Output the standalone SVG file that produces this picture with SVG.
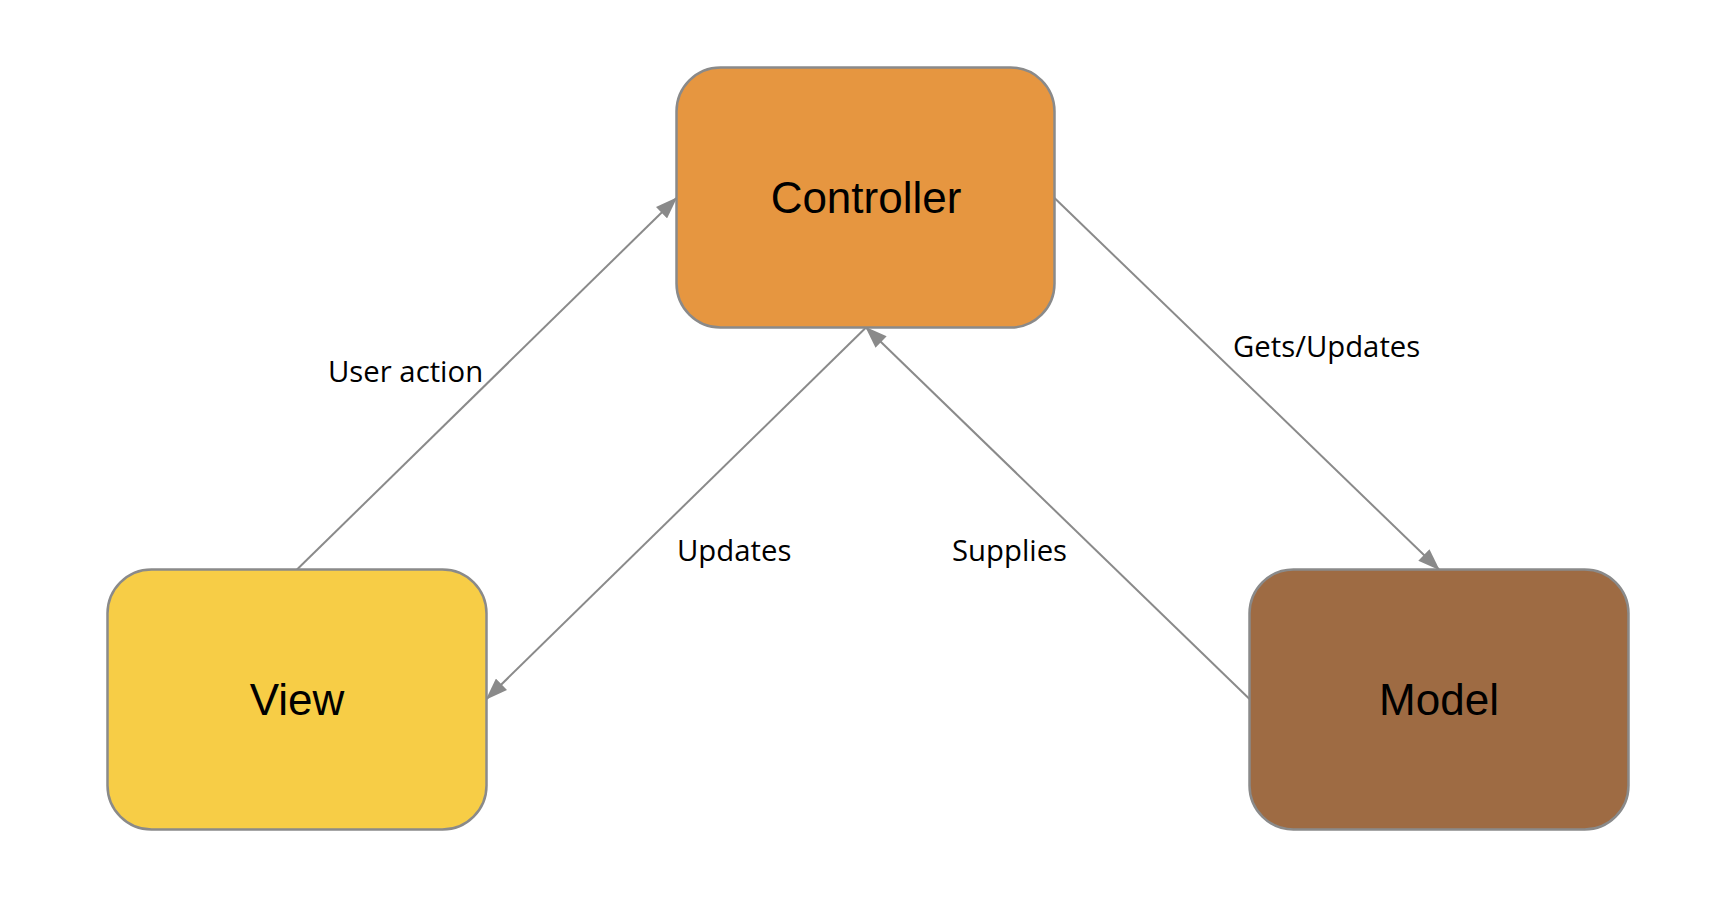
<svg xmlns="http://www.w3.org/2000/svg" width="1722" height="920" viewBox="0 0 1722 920">
  <style>
    .box { stroke: #8a8a8a; stroke-width: 2.5; }
    .title { font-family: "Liberation Sans", Arial, sans-serif; font-size: 44px; fill: #000; text-anchor: middle; }
    .lbl { font-family: "Open Sans", "Noto Sans", sans-serif; font-size: 29.3px; fill: #000; }
    .conn { stroke: #8a8a8a; stroke-width: 2; fill: none; }
  </style>
  <defs>
    <marker id="arrow" markerUnits="userSpaceOnUse" viewBox="0 0 22 16" refX="21" refY="8" markerWidth="22" markerHeight="16" orient="auto">
      <path d="M0,0 L22,8 L0,16 z" fill="#8a8a8a"/>
    </marker>
  </defs>
  <rect width="1722" height="920" fill="#ffffff"/>
  <g id="connectors">
    <line class="conn" x1="297" y1="569.5" x2="676.5" y2="198" marker-end="url(#arrow)"/>
    <line class="conn" x1="866" y1="327.5" x2="486.5" y2="699" marker-end="url(#arrow)"/>
    <line class="conn" x1="1249.5" y1="699" x2="866" y2="327.5" marker-end="url(#arrow)"/>
    <line class="conn" x1="1054.5" y1="198" x2="1439" y2="569.5" marker-end="url(#arrow)"/>
    <text class="lbl" x="328" y="382">User action</text>
    <text class="lbl" x="677" y="561">Updates</text>
    <text class="lbl" x="952" y="561">Supplies</text>
    <text class="lbl" x="1233" y="357">Gets/Updates</text>
  </g>
  <g id="controller">
    <rect class="box" x="676.5" y="67.5" width="378" height="260" rx="44" ry="44" fill="#e69640"/>
    <text class="title" x="866" y="213">Controller</text>
  </g>
  <g id="view">
    <rect class="box" x="107.5" y="569.5" width="379" height="260" rx="44" ry="44" fill="#f7cd46"/>
    <text class="title" x="297" y="715">View</text>
  </g>
  <g id="model">
    <rect class="box" x="1249.5" y="569.5" width="379" height="260" rx="44" ry="44" fill="#9e6b43"/>
    <text class="title" x="1439" y="715">Model</text>
  </g>
</svg>
